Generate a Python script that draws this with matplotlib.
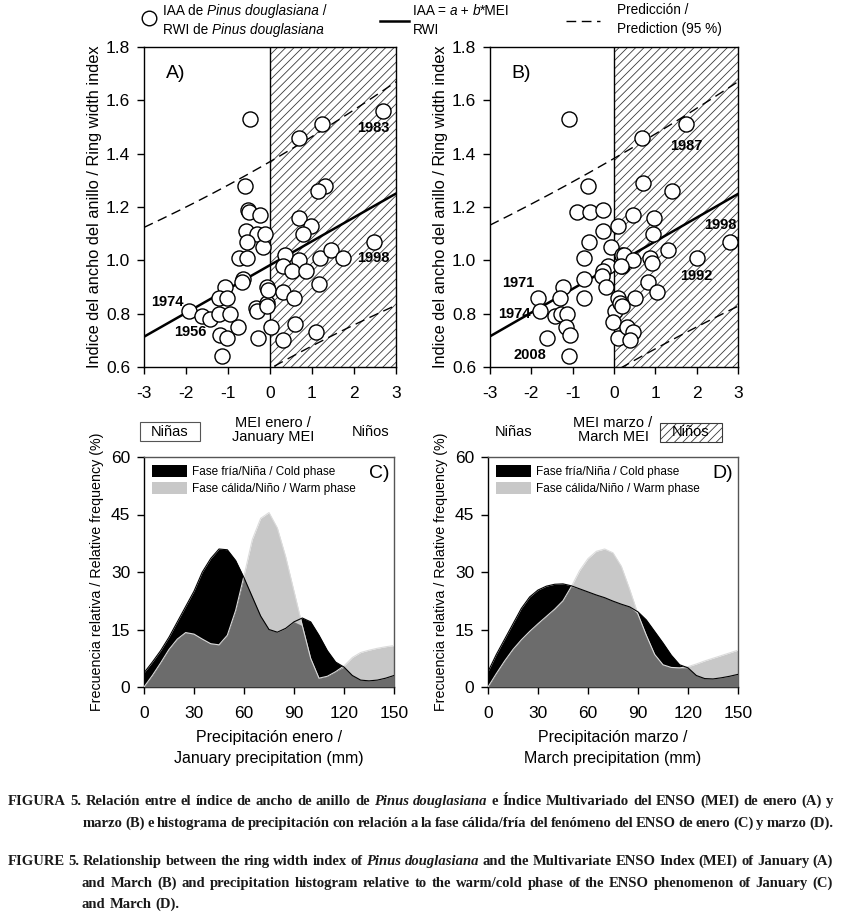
import numpy as np
import matplotlib
matplotlib.use("Agg")
import matplotlib.pyplot as plt
from matplotlib.lines import Line2D
from matplotlib.patches import Rectangle, Patch

plt.rcParams['font.family'] = ['Liberation Sans', 'DejaVu Sans']
plt.rcParams['hatch.linewidth'] = 0.6
plt.rcParams['hatch.color'] = '#3a3a3a'

# ---------------- data ----------------
# Panel A: January MEI vs ring width index
mei_jan = [-0.48, -0.60, -0.53, -0.49, -0.24, -0.57, -0.30, -0.54, -0.16, -0.75,
           -0.54, -0.65, -0.67, -1.07, -1.21, -1.02, -1.92, -1.63, -1.43, -1.21,
           -0.95, -1.19, -1.02, -0.77, -1.15, -0.33, -0.32, -0.06, -0.06, 0.02,
           -0.28, 0.70, 1.23, 2.68, 1.31, 1.15, 0.70, 0.97, 0.78, 2.48,
           0.36, 0.30, 0.70, 0.52, 0.86, 1.19, 1.45, 1.73, 1.17, -0.04,
           0.30, 0.57, -0.08, 0.60, 1.10, 0.30, -0.12]
rwi_jan = [1.53, 1.28, 1.19, 1.18, 1.17, 1.11, 1.10, 1.07, 1.05, 1.01,
           1.01, 0.93, 0.92, 0.90, 0.86, 0.86, 0.81, 0.79, 0.78, 0.80,
           0.80, 0.72, 0.71, 0.75, 0.64, 0.82, 0.81, 0.90, 0.84, 0.75,
           0.71, 1.46, 1.51, 1.56, 1.28, 1.26, 1.16, 1.13, 1.10, 1.07,
           1.02, 0.98, 1.00, 0.96, 0.96, 1.01, 1.04, 1.01, 0.91, 0.89,
           0.88, 0.86, 0.83, 0.76, 0.73, 0.70, 1.10]

# Panel B: March MEI vs ring width index
mei_mar = [-1.09, -0.64, -0.89, -0.58, -0.26, -0.26, 0.09, -0.60, -0.07, -0.72,
           0.19, -0.14, 0.19, -0.27, -0.72, -0.28, -1.23, -0.19, -1.83, -1.31,
           -0.72, -1.79, -1.43, -1.28, -1.13, -1.16, -1.63, -1.06, -1.08, 0.09,
           0.02, -0.02, 0.10, 0.67, 1.74, 0.69, 1.40, 0.45, 0.97, 0.95,
           1.31, 2.81, 2.02, 0.23, 0.47, 0.87, 0.91, 0.16, 0.83, 1.03,
           0.51, 0.15, 0.19, 0.31, 0.47, 0.39]
rwi_mar = [1.53, 1.28, 1.18, 1.18, 1.19, 1.11, 1.13, 1.07, 1.05, 1.01,
           1.02, 0.98, 0.98, 0.96, 0.93, 0.94, 0.90, 0.90, 0.86, 0.86,
           0.86, 0.81, 0.79, 0.80, 0.80, 0.75, 0.71, 0.72, 0.64, 0.86,
           0.81, 0.77, 0.71, 1.46, 1.51, 1.29, 1.26, 1.17, 1.16, 1.10,
           1.04, 1.07, 1.01, 1.02, 1.00, 1.01, 0.99, 0.98, 0.92, 0.88,
           0.86, 0.84, 0.83, 0.75, 0.73, 0.70]

# regression IAA = a + b*MEI and 95 % prediction half-width^2 = p + q*x + r*x^2
reg_a = [0.982, 0.982]
reg_b = [0.0895, 0.089]
pred_p = [0.1505, 0.160]
pred_q = [0.00125, 0.00055]
pred_r = [0.00237, 0.00173]

# annotated years (label, MEI, RWI position)
years_A = [("1974", -2.45, 0.845), ("1956", -1.9, 0.732), ("1983", 2.46, 1.495), ("1998", 2.45, 1.008)]
years_B = [("1971", -2.32, 0.914), ("1974", -2.42, 0.799), ("2008", -2.03, 0.645),
           ("1987", 1.74, 1.428), ("1998", 2.56, 1.133), ("1992", 2.0, 0.941)]

# Panels C and D: precipitation frequency (%)
precip = [0, 5, 10, 15, 20, 25, 30, 35, 40, 45, 50, 55, 60, 65, 70, 75, 80, 85, 90, 95,
          100, 105, 110, 115, 120, 125, 130, 135, 140, 145, 150]
cold_jan = [3.7, 6.5, 9.5, 13.0, 17.0, 21.0, 25.0, 30.0, 33.5, 36.0, 35.8, 33.0, 28.5, 23.5, 18.5, 15.0,
            14.3, 15.3, 17.0, 18.0, 17.0, 13.5, 9.5, 6.5, 5.2, 3.0, 1.8, 1.6, 1.8, 2.3, 3.0]
warm_jan = [0.0, 3.0, 6.3, 9.8, 12.5, 14.2, 13.8, 12.5, 11.3, 11.0, 13.5, 20.0, 29.0, 38.5, 44.0, 45.5,
            41.5, 34.0, 25.0, 16.0, 7.5, 2.3, 2.8, 4.0, 5.5, 7.7, 9.0, 9.6, 10.1, 10.5, 10.8]
cold_mar = [4.0, 8.5, 12.5, 16.5, 20.5, 23.5, 25.3, 26.3, 26.8, 26.9, 26.4, 25.6, 24.8, 24.0, 23.3, 22.4,
            21.6, 20.9, 19.6, 17.5, 14.5, 11.5, 8.3, 5.8, 5.0, 3.0, 2.2, 2.1, 2.4, 2.8, 3.3]
warm_mar = [0.0, 3.5, 6.8, 9.8, 12.3, 14.5, 16.5, 18.4, 20.3, 22.5, 26.2, 30.4, 33.5, 35.4, 36.0, 35.0,
            31.5, 25.5, 19.0, 13.5, 8.5, 5.8, 5.1, 5.0, 5.3, 6.0, 6.8, 7.5, 8.2, 8.9, 9.6]

mei_ticks = [-3, -2, -1, 0, 1, 2, 3]
rwi_ticks = [0.6, 0.8, 1.0, 1.2, 1.4, 1.6, 1.8]
pp_ticks = [0, 30, 60, 90, 120, 150]
freq_ticks = [0, 15, 30, 45, 60]

# ---------------- figure ----------------
W, H = 841, 914
fig = plt.figure(figsize=(W / 100, H / 100), dpi=100)


def box(l, t, r, b):
    return [l / W, 1 - b / H, (r - l) / W, (b - t) / H]


axA = fig.add_axes(box(144, 47, 396, 367))
axB = fig.add_axes(box(490, 47, 738, 367))
axC = fig.add_axes(box(144, 457, 394, 687))
axD = fig.add_axes(box(488, 457, 738, 687))

TICK_FS = 12.5


def scatter_panel(ax, x, y, k, years, letter):
    ax.set_xlim(-3, 3)
    ax.set_ylim(0.6, 1.8)
    ax.axvspan(0, 3, facecolor='white', hatch='////', edgecolor='#3a3a3a', linewidth=0, zorder=0)
    ax.axvline(0, color='black', lw=1.0, zorder=1)
    xs = np.linspace(-3, 3, 200)
    yh = reg_a[k] + reg_b[k] * xs
    w = np.sqrt(pred_p[k] + pred_q[k] * xs + pred_r[k] * xs ** 2)
    ax.plot(xs, yh, color='black', lw=1.8, zorder=2)
    ax.plot(xs, yh + w, color='black', lw=1.0, ls=(0, (7, 4)), zorder=2)
    ax.plot(xs, yh - w, color='black', lw=1.0, ls=(0, (7, 4)), zorder=2)
    ax.scatter(x, y, s=118, facecolor='white', edgecolor='black', linewidth=1.0, zorder=3)
    for lab, xx, yy in years:
        ax.text(xx, yy, lab, fontsize=10.5, fontweight='bold', ha='center', va='center', zorder=4)
    ax.text(-2.25, 1.70, letter, fontsize=14, ha='center', va='center')
    ax.set_xticks(mei_ticks)
    ax.set_xticklabels([str(t) for t in mei_ticks])
    ax.set_yticks(rwi_ticks)
    ax.set_yticklabels([f"{t:.1f}" for t in rwi_ticks])
    ax.tick_params(axis='both', labelsize=TICK_FS, length=5, width=1.0)
    ax.tick_params(axis='x', pad=9)
    ax.tick_params(axis='y', pad=5)
    ax.set_ylabel("Indice del ancho del anillo / Ring width index", fontsize=11.8, labelpad=3)
    for s in ax.spines.values():
        s.set_linewidth(1.0)


scatter_panel(axA, mei_jan, rwi_jan, 0, years_A, "A)")
scatter_panel(axB, mei_mar, rwi_mar, 1, years_B, "B)")


def freq_panel(ax, cold, warm, letter, xlabel):
    x = np.array(precip, dtype=float)
    c = np.array(cold)
    wv = np.array(warm)
    ax.fill_between(x, 0, c, color='black', lw=0, zorder=1)
    ax.fill_between(x, 0, wv, color='#c8c8c8', lw=0, zorder=2)
    ax.fill_between(x, 0, np.minimum(c, wv), color='#6c6c6c', lw=0, zorder=3)
    ax.plot(x, wv, color='#dcdcdc', lw=0.8, zorder=4)
    ax.plot(x, c, color='black', lw=0.8, zorder=4)
    ax.set_xlim(0, 150)
    ax.set_ylim(0, 60)
    ax.set_xticks(pp_ticks)
    ax.set_yticks(freq_ticks)
    ax.tick_params(axis='both', labelsize=TICK_FS, length=5, width=1.0)
    ax.tick_params(axis='x', pad=9)
    ax.tick_params(axis='y', pad=5)
    ax.set_ylabel("Frecuencia relativa / Relative frequency (%)", fontsize=10.3, labelpad=5)
    ax.set_xlabel(xlabel, fontsize=11.5, labelpad=6, linespacing=1.55)
    handles = [Patch(facecolor='black', edgecolor='none', label='Fase fría/Niña / Cold phase'),
               Patch(facecolor='#c8c8c8', edgecolor='none', label='Fase cálida/Niño / Warm phase')]
    ax.legend(handles=handles, loc='upper left', frameon=False, fontsize=8.5,
              handlelength=2.9, handleheight=1.2, handletextpad=0.5, labelspacing=0.3,
              borderaxespad=0.3, bbox_to_anchor=(0.0, 1.0))
    ax.text(0.94, 0.93, letter, transform=ax.transAxes, fontsize=14, ha='center', va='center')
    for s in ax.spines.values():
        s.set_linewidth(1.0)
    for s in ('right', 'top'):
        ax.spines[s].set_color('#555555')


freq_panel(axC, cold_jan, warm_jan, "C)", "Precipitación enero /\nJanuary precipitation (mm)")
freq_panel(axD, cold_mar, warm_mar, "D)", "Precipitación marzo /\nMarch precipitation (mm)")


def fx(px):
    return px / W


def fy(py):
    return 1 - py / H


renderer = fig.canvas.get_renderer()


def rich(x_px, y_px, segments, fs, family, va='baseline'):
    x = x_px
    for txt, style, weight in segments:
        t = fig.text(fx(x), fy(y_px), txt, fontsize=fs, family=family, style=style,
                     weight=weight, ha='left', va=va)
        x += t.get_window_extent(renderer).width
    return x


# ---- top legend ----
fig.add_artist(Line2D([fx(149)], [fy(18)], marker='o', markersize=10.5, markerfacecolor='white',
                      markeredgecolor='black', markeredgewidth=1.0, linestyle='none'))
LFS = 9.8
SANS = ['Liberation Sans']
rich(163, 15, [("IAA de ", 'normal', 'normal'), ("Pinus douglasiana", 'italic', 'normal'), (" /", 'normal', 'normal')],
     LFS, SANS)
rich(163, 34, [("RWI de ", 'normal', 'normal'), ("Pinus douglasiana", 'italic', 'normal')], LFS, SANS)
fig.add_artist(Line2D([fx(380), fx(409)], [fy(21), fy(21)], color='black', lw=1.8))
rich(413, 15, [("IAA = ", 'normal', 'normal'), ("a", 'italic', 'normal'), (" + ", 'normal', 'normal'),
               ("b", 'italic', 'normal'), ("*MEI", 'normal', 'normal')], LFS, SANS)
rich(413, 34, [("RWI", 'normal', 'normal')], LFS, SANS)
fig.add_artist(Line2D([fx(566), fx(600)], [fy(21), fy(21)], color='black', lw=1.0, ls=(0, (7, 4))))
rich(617, 14, [("Predicción /", 'normal', 'normal')], LFS, SANS)
rich(617, 33, [("Prediction (95 %)", 'normal', 'normal')], LFS, SANS)

# ---- middle labels ----
MFS = 10.5
fig.add_artist(Rectangle((fx(140), fy(441)), (200 - 140) / W, 19 / H, facecolor='white',
                         edgecolor='#555555', lw=0.8, transform=fig.transFigure))
fig.text(fx(170), fy(432), "Niñas", fontsize=MFS, ha='center', va='center')
fig.text(fx(273), fy(430), "MEI enero /\nJanuary MEI", fontsize=MFS, ha='center', va='center', linespacing=1.0)
fig.text(fx(371), fy(432), "Niños", fontsize=MFS, ha='center', va='center')
fig.text(fx(514), fy(432), "Niñas", fontsize=MFS, ha='center', va='center')
fig.text(fx(613), fy(430), "MEI marzo /\nMarch MEI", fontsize=MFS, ha='center', va='center', linespacing=1.0)
fig.add_artist(Rectangle((fx(660), fy(442)), (722 - 660) / W, 19 / H, facecolor='white', hatch='////',
                         edgecolor='#3a3a3a', lw=0.8, transform=fig.transFigure))
fig.text(fx(691), fy(432), "Niños", fontsize=MFS, ha='center', va='center')

# ---- caption (justified) ----
SERIF = ['Liberation Serif', 'DejaVu Serif']


def words_of(segments):
    out = []
    for txt, style in segments:
        for w in txt.split(' '):
            if w:
                out.append((w, style))
    return out


def measure(word, style, fs):
    t = fig.text(0, 0, word, fontsize=fs, family=SERIF, style=style, weight='bold')
    w = t.get_window_extent(renderer).width
    t.remove()
    return w


cap_lines = [
    (8, 805, 833, [("FIGURA 5. Relación entre el índice de ancho de anillo de", 'normal'),
                   ("Pinus douglasiana", 'italic'),
                   ("e Índice Multivariado del ENSO (MEI) de enero (A) y", 'normal')], True),
    (83, 827, 833, [("marzo (B) e histograma de precipitación con relación a la fase cálida/fría del fenómeno del ENSO de enero (C) y marzo (D).", 'normal')], True),
    (8, 865, 833, [("FIGURE 5. Relationship between the ring width index of", 'normal'),
                   ("Pinus douglasiana", 'italic'),
                   ("and the Multivariate ENSO Index (MEI) of January (A)", 'normal')], True),
    (82, 887, 833, [("and March (B) and precipitation histogram relative to the warm/cold phase of the ENSO phenomenon of January (C)", 'normal')], True),
    (82, 908, 833, [("and March (D).", 'normal')], False),
]

CFS = 10.5
space_w = measure("a a", 'normal', CFS) - 2 * measure("a", 'normal', CFS)
worst = 1.0
for x0, y0, x1, segs, just in cap_lines:
    ws = words_of(segs)
    tot = sum(measure(w, s, CFS) for w, s in ws) + 0.6 * space_w * (len(ws) - 1)
    worst = max(worst, tot / (x1 - x0))
CFS = CFS / worst

space_w = measure("a a", 'normal', CFS) - 2 * measure("a", 'normal', CFS)
for x0, y0, x1, segs, just in cap_lines:
    ws = words_of(segs)
    widths = [measure(w, s, CFS) for w, s in ws]
    if just and len(ws) > 1:
        gap = (x1 - x0 - sum(widths)) / (len(ws) - 1)
    else:
        gap = space_w
    x = x0
    for (w, s), wd in zip(ws, widths):
        fig.text(fx(x), fy(y0), w, fontsize=CFS, family=SERIF, style=s, weight='bold',
                 ha='left', va='baseline', color='#1a1a1a')
        x += wd + gap

fig.savefig("out.png", dpi=100)
